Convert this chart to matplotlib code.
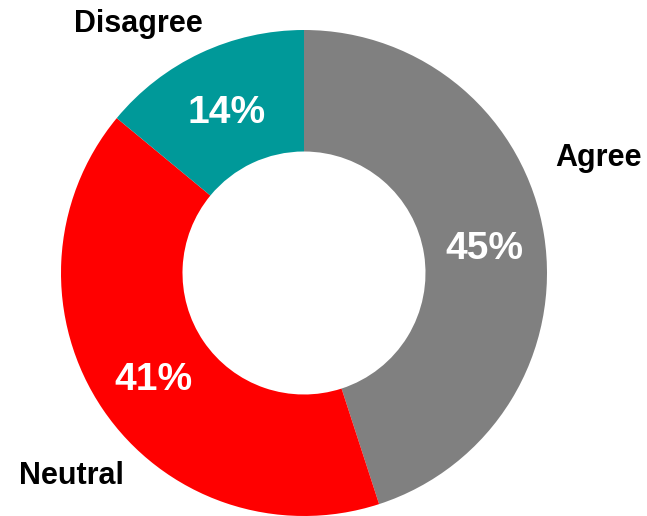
import matplotlib.pyplot as plt

categories = ['Agree', 'Neutral', 'Disagree']
values = [45, 41, 14]
colors = ['#808080', '#FF0000', '#009999']

# where the category names sit (data units, pie radius = 1)
label_pos = [(1.21, 0.475), (-0.955, -0.835), (-0.68, 1.025)]

plt.rcParams['font.family'] = ['Liberation Sans', 'DejaVu Sans']

fig = plt.figure(figsize=(6.47, 5.16), dpi=100)
ax = fig.add_axes([61 / 647, 0.0, 486 / 647, 486 / 516])

wedges, texts, autotexts = ax.pie(
    values, labels=categories, colors=colors, startangle=90, counterclock=False,
    radius=1, wedgeprops=dict(width=0.5, linewidth=0),
    autopct='%d%%', pctdistance=0.75,
    textprops=dict(fontsize=22, fontweight='bold', color='black'))

for t, (x, y) in zip(texts, label_pos):
    t.set_position((x, y))
    t.set_ha('center')
    t.set_va('center')
    t.set_clip_on(False)

for t in autotexts:
    t.set_color('white')
    t.set_fontsize(28)
    x, y = t.get_position()
    t.set_position((x, y - 0.02))

ax.set_xlim(-1, 1)
ax.set_ylim(-1, 1)
ax.set_aspect('equal')
ax.axis('off')

fig.savefig('out.png', dpi=100)
